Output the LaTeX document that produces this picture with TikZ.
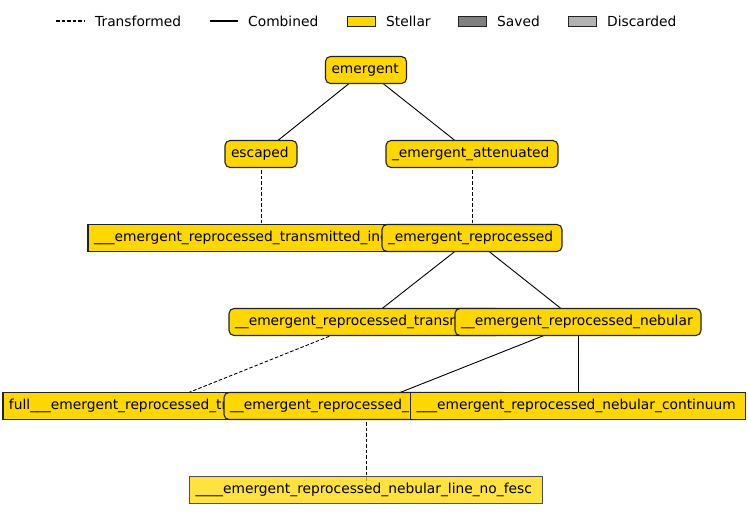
\documentclass[tikz,border=0pt]{standalone}
\usepackage{fontspec}
\setmainfont{DejaVu Sans}
\definecolor{stellar}{HTML}{FFD700}
\definecolor{rim}{HTML}{222222}
\newcommand{\lbl}[2]{\makebox[#1pt][l]{#2}}
\tikzset{
  box/.style={draw=rim, fill=stellar, line width=1.1pt, inner xsep=6pt, inner ysep=0pt,
    minimum height=27pt, font=\fontsize{13.8}{15}\selectfont},
  rbox/.style={box, rounded corners=5pt},
  combined/.style={black, line width=0.9pt},
  transformed/.style={black, line width=0.9pt, dash pattern=on 3.5pt off 2pt},
  patch/.style={draw=rim, minimum width=28pt, minimum height=10pt, inner sep=0pt},
  lab/.style={anchor=west, font=\fontsize{13.8}{15}\selectfont, inner sep=0pt},
}
\begin{document}
\begin{tikzpicture}[x=1pt, y=-1pt]
    \useasboundingbox[fill=white] (0,0) rectangle (748,521);
    % legend
    \coordinate (l1a) at (56,21); \coordinate (l1b) at (84,21);
    \coordinate (l2a) at (210,21); \coordinate (l2b) at (238,21);
    \draw[transformed, line width=1.4pt] (l1a) -- (l1b);
    \node[lab] (ltrans) at (95,21) {Transformed};
    \draw[combined, line width=1.4pt] (l2a) -- (l2b);
    \node[lab] (lcomb) at (248,21) {Combined};
    \node[patch, fill=stellar] (pst) at (361,21) {};
    \node[lab] (lst) at (386,21) {Stellar};
    \node[patch, fill=gray] (psv) at (472,21) {};
    \node[lab] (lsv) at (497,21) {Saved};
    \node[patch, fill=gray!60] (pdc) at (582,21) {};
    \node[lab] (ldc) at (607,21) {Discarded};
    % node centres
    \coordinate (c0) at (366,70);
    \coordinate (c1) at (261,154);  \coordinate (c2) at (472,154);
    \coordinate (c3) at (261,238);  \coordinate (c4) at (472,238);
    \coordinate (c5) at (365,322);  \coordinate (c6) at (578,322);
    \coordinate (c7) at (155,406);  \coordinate (c8) at (366,406);
    \coordinate (c9) at (578,406);  \coordinate (c10) at (366,490);
    % edges
    \draw[combined] (c0) -- (c1);
    \draw[combined] (c0) -- (c2);
    \draw[transformed] (c1) -- (c3);
    \draw[transformed] (c2) -- (c4);
    \draw[combined] (c4) -- (c5);
    \draw[combined] (c4) -- (c6);
    \draw[transformed] (c5) -- (c7);
    \draw[combined] (c6) -- (c8);
    \draw[combined] (c6) -- (c9);
    \draw[transformed] (c8) -- (c10);
    % nodes (later ones cover earlier ones, as in the reference)
    \node[rbox] (emergent) at (c0) {\lbl{69}{emergent}};
    \node[rbox] (escaped) at (c1) {\lbl{60}{escaped}};
    \node[rbox] (atten) at (c2) {\lbl{160}{\_emergent\_attenuated}};
    \node[box] (transin) at (c3) {\lbl{334}{\_\_\_emergent\_reprocessed\_transmitted\_incident}};
    \node[rbox] (repro) at (c4) {\lbl{168}{\_emergent\_reprocessed}};
    \node[rbox] (trans) at (c5) {\lbl{260}{\_\_emergent\_reprocessed\_transmitted}};
    \node[rbox] (nebular) at (c6) {\lbl{234}{\_\_emergent\_reprocessed\_nebular}};
    \node[box] (full) at (c7) {\lbl{292}{full\_\_\_emergent\_reprocessed\_transmitted}};
    \node[rbox] (line) at (c8) {\lbl{272}{\_\_emergent\_reprocessed\_nebular\_line}};
    \node[box] (cont) at (c9) {\lbl{323}{\_\_\_emergent\_reprocessed\_nebular\_continuum}};
    \node[box, draw=rim!80, fill opacity=0.75, text opacity=1] (nofesc) at (c10) {\lbl{341}{\_\_\_\_emergent\_reprocessed\_nebular\_line\_no\_fesc}};
\end{tikzpicture}
\end{document}
